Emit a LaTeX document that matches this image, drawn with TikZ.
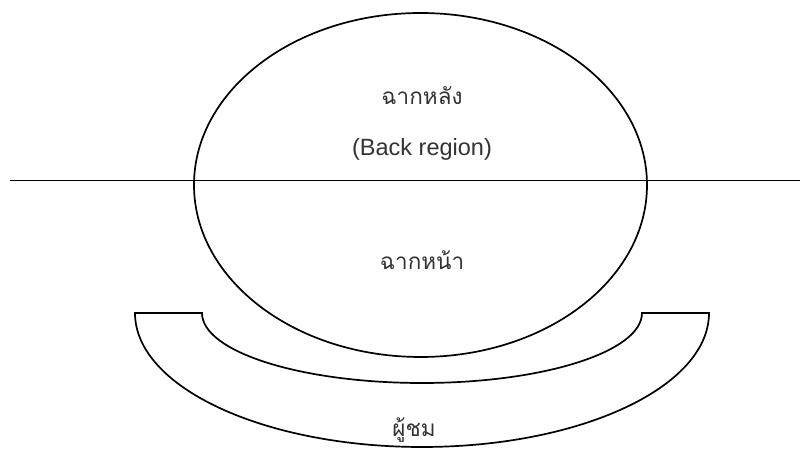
\documentclass[tikz,border=0pt]{standalone}
\usepackage{fontspec}
\setmainfont{Liberation Sans}
\newfontfamily\thaifont[Script=Thai]{Loma}
\usetikzlibrary{shapes.geometric}
\tikzset{
  outline/.style={draw=black, line width=1.7pt},
  thailabel/.style={font=\thaifont\fontsize{22.5}{26}\selectfont, text=black!80, inner sep=0pt},
  latinlabel/.style={font=\fontsize{23.5}{27}\selectfont, text=black!80, inner sep=0pt}
}
\begin{document}
\begin{tikzpicture}[x=1pt,y=1pt]
\useasboundingbox (0,0) rectangle (804,449);
% stage ellipse
\node[ellipse, outline, minimum width=453pt, minimum height=344pt, inner sep=0pt] (stage) at (420.5,264) {};
% dividing line
\coordinate (lineL) at (10,268.5);
\coordinate (lineR) at (800,268.5);
\draw[outline] (lineL) -- (lineR);
% audience bowl
\draw[outline, line join=miter] (135,136) -- (202,136)
  arc[start angle=180, end angle=360, x radius=220pt, y radius=70pt]
  -- (709,136)
  arc[start angle=0, end angle=-180, x radius=287pt, y radius=134pt]
  -- cycle;
% labels
\node[thailabel] (back) at (422,353) {ฉากหลัง};
\node[latinlabel] (backen) at (422,300) {(Back region)};
\node[thailabel] (front) at (422,189) {ฉากหน้า};
\node[thailabel] (audience) at (414,19) {ผู้ชม};
\end{tikzpicture}
\end{document}
